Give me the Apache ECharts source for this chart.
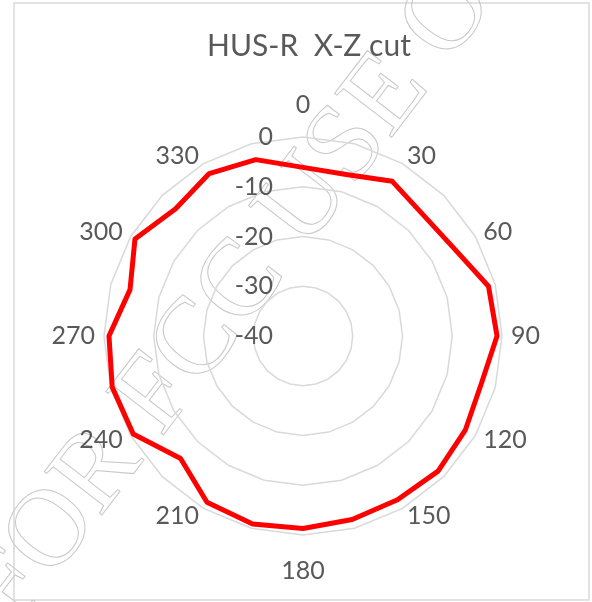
<!DOCTYPE html>
<html>
<head>
<meta charset="utf-8">
<script src="https://cdn.jsdelivr.net/npm/echarts@6/dist/echarts.min.js"></script>
<style>html,body{margin:0;padding:0;background:#fff}#c{width:592px;height:602px}</style>
</head>
<body>
<div id="c"></div>
<script>
// Angles in degrees (clockwise from top), every 15 degrees
const angles = [0,15,30,45,60,75,90,105,120,135,150,165,180,195,210,225,240,255,270,285,300,315,330,345];
// Gain values (dB)
const gain = [-6.1,-6.4,-4.1,-5.7,-4.9,-1.4,-1.0,-2.9,-2.3,-1.6,-2.0,-1.8,-1.3,-0.9,-1.4,-5.2,-0.6,-0.3,-1.0,-4.0,-1.0,-3.8,-2.3,-3.3];
// Angle labels (only every 30 degrees shown)
const angleLabels = angles.map(a => a % 30 === 0 ? String(a) : '');
// Radial tick values
const radialMin = -40, radialMax = 0, radialStep = 10;
const titleText = 'HUS-R  X-Z cut';
const watermark = 'FOR FCC USE ONLY';

// ECharts radar places indicators counter-clockwise, so reverse (keeping 0 first)
const order = [0].concat(angles.map((_, i) => i).slice(1).reverse());

const txt = '#595959';
const lab = {color: txt, fontSize: 25, fontFamily: 'Lato'};
const chart = echarts.init(document.getElementById('c'), null, {renderer: 'canvas'});
chart.setOption({
  backgroundColor: '#ffffff',
  animation: false,
  title: {
    text: titleText, left: 304, top: 26, textAlign: 'center',
    textStyle: {color: txt, fontSize: 30, fontWeight: 'normal', fontFamily: 'Lato'}
  },
  graphic: [
    {type: 'rect', silent: true, z: -10, shape: {x: 14, y: 3, width: 575, height: 597},
     style: {fill: 'none', stroke: '#d9d9d9', lineWidth: 1.5}},
    {type: 'text', silent: true, z: -5, x: -9, y: 612, rotation: 52.5 * Math.PI / 180,
     style: {text: watermark, font: '110px "Liberation Serif"', fill: 'none', stroke: '#c8c8c8', lineWidth: 1,
             textAlign: 'left', textVerticalAlign: 'middle'}}
  ],
  radar: {
    center: [303, 336], radius: 199, startAngle: 90, splitNumber: 4, shape: 'polygon',
    indicator: order.map(i => ({name: angleLabels[i], min: radialMin, max: radialMax})),
    nameGap: 9,
    axisName: Object.assign({}, lab, {
      formatter: function (name) {
        if (name === '0') return '{t|' + name + '}';
        if (name === '180') return '{b|' + name + '}';
        return name;
      },
      rich: {
        t: Object.assign({}, lab, {padding: [0, 0, 11, 0]}),
        b: Object.assign({}, lab, {padding: [14, 0, 0, 0]})
      }
    }),
    axisLine: {show: false}, axisTick: {show: false}, axisLabel: {show: false},
    splitLine: {lineStyle: {color: '#d9d9d9', width: 1.5}},
    splitArea: {show: false}
  },
  grid: {left: 303, top: 137, width: 10, height: 199},
  xAxis: {type: 'value', show: false},
  yAxis: {
    type: 'value', min: radialMin, max: radialMax, interval: radialStep,
    axisLine: {show: false}, axisTick: {show: false}, splitLine: {show: false},
    axisLabel: Object.assign({margin: 30}, lab)
  },
  series: [{
    type: 'radar', symbol: 'none', silent: true,
    lineStyle: {color: '#ff0000', width: 5, join: 'round'},
    data: [{value: order.map(i => gain[i])}]
  }]
});
</script>
</body>
</html>
